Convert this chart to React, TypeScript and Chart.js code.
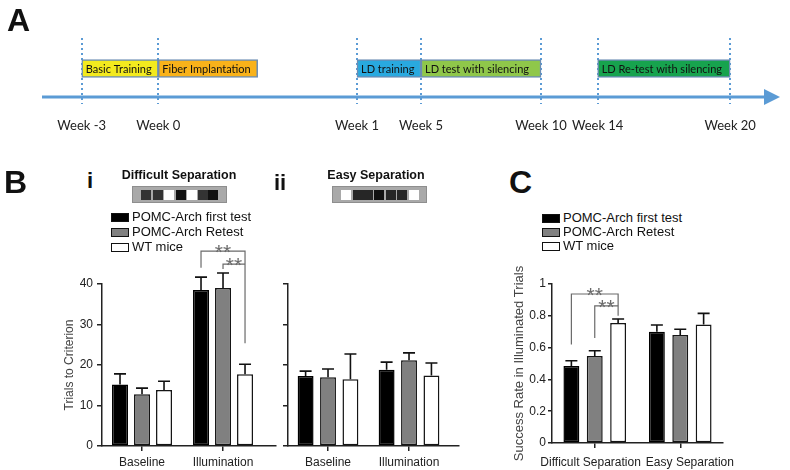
import { useEffect, useRef } from 'react';
import { Chart, registerables } from 'chart.js';

Chart.register(...registerables);

// ---------------- Panel A : timeline ----------------
const weekLabels = ['Week -3', 'Week 0', 'Week 1', 'Week 5', 'Week 10', 'Week 14', 'Week 20'];
// position of each milestone along the drawn timeline (0 = arrow start, 100 = arrow tip)
const weekMarks = [5.4, 15.8, 42.8, 51.5, 67.8, 75.5, 93.5];
const phaseNames = ['Basic Training', 'Fiber Implantation', 'LD training', 'LD test with silencing', 'LD Re-test with silencing'];
const phaseStart = [5.4, 15.8, 42.8, 51.5, 75.5];
const phaseEnd = [15.8, 29.3, 51.5, 67.8, 93.5];
const phaseColors = ['#f3ea1e', '#f9b21a', '#29a9df', '#8fc74a', '#17a34e'];

// ---------------- Panels B and C ----------------
const seriesNames = ['POMC-Arch first test', 'POMC-Arch Retest', 'WT mice'];
const seriesColors = ['#000000', '#808080', '#ffffff'];
const conditions = ['Baseline', 'Illumination'];

const difficultFirst = [15.2, 38.5];
const difficultRetest = [12.8, 39.0];
const difficultWT = [13.8, 17.7];
const difficultFirstErr = [2.6, 3.2];
const difficultRetestErr = [1.5, 3.7];
const difficultWTErr = [2.2, 2.5];

const easyFirst = [17.3, 18.8];
const easyRetest = [17.0, 21.2];
const easyWT = [16.5, 17.4];
const easyFirstErr = [1.2, 1.9];
const easyRetestErr = [2.0, 1.8];
const easyWTErr = [6.2, 3.1];

const trialsTicks = [0, 10, 20, 30, 40];

const separations = ['Difficult Separation', 'Easy Separation'];
const successFirst = [0.484, 0.7];
const successRetest = [0.547, 0.68];
const successWT = [0.755, 0.745];
const successFirstErr = [0.033, 0.042];
const successRetestErr = [0.033, 0.035];
const successWTErr = [0.025, 0.07];
const successTicks = [0, 0.2, 0.4, 0.6, 0.8, 1];

// significance brackets: series indices, group index, levels in data units
const trialsBracketFrom = [0, 1];
const trialsBracketTo = [2, 2];
const trialsBracketGroup = [1, 1];
const trialsBracketTop = [48.1, 44.9];
const trialsBracketFromFoot = [44.0, 43.7];
const trialsBracketToFoot = [25.4, 44.9];
const trialsBracketText = ['**', '**'];

const successBracketFrom = [0, 1];
const successBracketTo = [2, 2];
const successBracketGroup = [0, 0];
const successBracketTop = [0.937, 0.862];
const successBracketFromFoot = [0.62, 0.66];
const successBracketToFoot = [0.8, 0.862];
const successBracketText = ['**', '**'];

// stimulus icons (decorative)
const difficultPattern = ['#333', '#333', '#fff', '#111', '#fff', '#333', '#111'];
const easyPattern = ['#fff', '#262626', '#262626', '#111', '#262626', '#262626', '#fff'];

const FONT = 'Arial, "Liberation Sans", sans-serif';

// ---------------- plugins ----------------
const timelinePlugin = {
  id: 'timeline',
  beforeDatasetsDraw(chart: any) {
    const ctx = chart.ctx;
    const xs = chart.scales.x;
    const area = chart.chartArea;
    ctx.save();
    ctx.strokeStyle = '#5b9bd5';
    ctx.lineWidth = 2;
    ctx.setLineDash([2, 3]);
    weekMarks.forEach((v) => {
      const x = Math.round(xs.getPixelForValue(v));
      ctx.beginPath();
      ctx.moveTo(x, 38);
      ctx.lineTo(x, 104);
      ctx.stroke();
    });
    ctx.setLineDash([]);
    const y = area.bottom;
    ctx.lineWidth = 3;
    ctx.beginPath();
    ctx.moveTo(area.left, y);
    ctx.lineTo(area.right - 12, y);
    ctx.stroke();
    ctx.fillStyle = '#5b9bd5';
    ctx.beginPath();
    ctx.moveTo(area.right + 2, y);
    ctx.lineTo(area.right - 14, y - 8);
    ctx.lineTo(area.right - 14, y + 8);
    ctx.closePath();
    ctx.fill();
    ctx.restore();
  },
  afterDatasetsDraw(chart: any) {
    const ctx = chart.ctx;
    ctx.save();
    ctx.font = '11px Lato, "Open Sans", sans-serif';
    ctx.fillStyle = '#111';
    ctx.textAlign = 'left';
    ctx.textBaseline = 'middle';
    chart.data.datasets.forEach((ds: any, i: number) => {
      const el = chart.getDatasetMeta(i).data[0];
      const left = Math.min(el.x, el.base);
      ctx.fillText(ds.label, left + 4, el.y + 1);
    });
    ctx.restore();
  },
};

const barExtras = {
  id: 'barExtras',
  afterDatasetsDraw(chart: any, _args: any, opts: any) {
    const ctx = chart.ctx;
    const ys = chart.scales.y;
    ctx.save();
    // error bars (upper only)
    chart.data.datasets.forEach((ds: any, di: number) => {
      const meta = chart.getDatasetMeta(di);
      meta.data.forEach((el: any, i: number) => {
        const v = meta.controller.getParsed(i).y;
        const top = ys.getPixelForValue(v + ds.errors[i]);
        ctx.strokeStyle = '#111';
        ctx.lineWidth = 1.6;
        ctx.beginPath();
        ctx.moveTo(el.x, el.y);
        ctx.lineTo(el.x, top);
        ctx.moveTo(el.x - 6, top);
        ctx.lineTo(el.x + 6, top);
        ctx.stroke();
      });
    });
    // significance brackets
    const b = opts && opts.brackets;
    if (b) {
      for (let k = 0; k < b.from.length; k++) {
        const xl = chart.getDatasetMeta(b.from[k]).data[b.group[k]].x;
        const xr = chart.getDatasetMeta(b.to[k]).data[b.group[k]].x;
        const yt = ys.getPixelForValue(b.top[k]);
        ctx.strokeStyle = '#6a6a6a';
        ctx.lineWidth = 1.2;
        ctx.beginPath();
        ctx.moveTo(xl, ys.getPixelForValue(b.fromFoot[k]));
        ctx.lineTo(xl, yt);
        ctx.lineTo(xr, yt);
        ctx.lineTo(xr, ys.getPixelForValue(b.toFoot[k]));
        ctx.stroke();
        ctx.fillStyle = '#6a6a6a';
        ctx.font = '21px ' + FONT;
        ctx.textAlign = 'center';
        ctx.textBaseline = 'alphabetic';
        ctx.fillText(b.text[k], (xl + xr) / 2, yt + 8);
      }
    }
    // x labels pushed apart when they would overlap
    if (opts && opts.spreadLabels) {
      const xs = chart.scales.x;
      const labels: string[] = chart.data.labels;
      ctx.font = '12px ' + FONT;
      ctx.fillStyle = '#222';
      ctx.textAlign = 'center';
      ctx.textBaseline = 'middle';
      const centers = labels.map((_, i) => xs.getPixelForValue(i));
      const widths = labels.map((l) => ctx.measureText(l).width);
      for (let i = 0; i < labels.length - 1; i++) {
        const overlap = centers[i] + widths[i] / 2 + 5 - (centers[i + 1] - widths[i + 1] / 2);
        if (overlap > 0) {
          centers[i] -= overlap * 0.3;
          centers[i + 1] += overlap * 0.7;
        }
      }
      labels.forEach((l, i) => ctx.fillText(l, centers[i], xs.top + 20));
    }
    ctx.restore();
  },
};

// ---------------- chart builders ----------------
function makeTimeline(canvas: HTMLCanvasElement) {
  return new Chart(canvas, {
    type: 'bar',
    data: {
      labels: ['phase'],
      datasets: phaseNames.map((name, i) => ({
        label: name,
        data: [[phaseStart[i], phaseEnd[i]]],
        backgroundColor: phaseColors[i],
        borderColor: '#6b8db3',
        borderWidth: 1.5,
        borderSkipped: false,
        barThickness: 18,
        grouped: false,
      })),
    } as any,
    options: {
      indexAxis: 'y',
      responsive: false,
      animation: false,
      layout: { padding: { left: 42, right: 12, top: 40, bottom: 0 } },
      plugins: { legend: { display: false }, tooltip: { enabled: false } },
      scales: {
        x: {
          type: 'linear',
          min: 0,
          max: 100,
          grid: { display: false, drawTicks: false },
          border: { display: false },
          afterBuildTicks: (s: any) => {
            s.ticks = weekMarks.map((v) => ({ value: v }));
          },
          afterFit: (s: any) => {
            s.height = 53;
            s.paddingLeft = 0;
            s.paddingRight = 0;
          },
          ticks: {
            autoSkip: false,
            maxRotation: 0,
            minRotation: 0,
            padding: 21,
            color: '#222',
            font: { family: 'Lato, "Open Sans", sans-serif', size: 13 },
            callback: (_v: any, i: number) => weekLabels[i],
          },
        },
        y: { display: false },
      },
    } as any,
    plugins: [timelinePlugin],
  });
}

type BarSpec = {
  categories: string[];
  values: number[][];
  errors: number[][];
  linearX?: [number, number];
  categoryPct: number;
  barPct: number;
  yTicks: number[];
  showYLabels: boolean;
  yTitle?: string;
  yTitleSize?: number;
  yTitleOffset?: number;
  pad: { left: number; right: number; top: number; bottom: number };
  yWidth: number;
  xHeight: number;
  tickLen: number;
  tickPad: number;
  spreadLabels?: boolean;
  brackets?: any;
};

function makeBars(canvas: HTMLCanvasElement, s: BarSpec) {
  const linear = !!s.linearX;
  const xScale: any = linear
    ? {
        type: 'linear',
        min: s.linearX![0],
        max: s.linearX![1],
        offset: false,
        afterBuildTicks: (sc: any) => {
          sc.ticks = s.categories.map((_, i) => ({ value: i }));
        },
      }
    : { type: 'category', offset: true };
  Object.assign(xScale, {
    grid: { display: true, drawOnChartArea: false, drawTicks: true, tickLength: 5, color: '#222', lineWidth: 1.5, offset: false },
    border: { display: true, color: '#222', width: 1.5 },
    afterFit: (sc: any) => {
      sc.height = s.xHeight;
      sc.paddingLeft = 0;
      sc.paddingRight = 0;
    },
    ticks: {
      display: !s.spreadLabels,
      autoSkip: false,
      maxRotation: 0,
      minRotation: 0,
      padding: 4,
      color: '#222',
      font: { family: FONT, size: 12 },
      callback: (_v: any, i: number) => s.categories[i],
    },
  });
  return new Chart(canvas, {
    type: 'bar',
    data: {
      labels: s.categories,
      datasets: s.values.map((vals, si) => ({
        label: seriesNames[si],
        data: linear ? vals.map((v, i) => ({ x: i, y: v })) : vals,
        errors: s.errors[si],
        backgroundColor: seriesColors[si],
        borderColor: si === 0 ? '#000' : '#151515',
        borderWidth: 1.5,
        borderSkipped: false,
        categoryPercentage: s.categoryPct,
        barPercentage: s.barPct,
      })),
    } as any,
    options: {
      responsive: false,
      animation: false,
      layout: { padding: s.pad },
      plugins: {
        legend: { display: false },
        tooltip: { enabled: false },
        barExtras: { brackets: s.brackets, spreadLabels: s.spreadLabels },
      },
      scales: {
        x: xScale,
        y: {
          type: 'linear',
          min: s.yTicks[0],
          max: s.yTicks[s.yTicks.length - 1],
          afterBuildTicks: (sc: any) => {
            sc.ticks = s.yTicks.map((v) => ({ value: v }));
          },
          afterFit: (sc: any) => {
            sc.width = s.yWidth;
            sc.paddingTop = 0;
            sc.paddingBottom = 0;
          },
          grid: { display: true, drawOnChartArea: false, drawTicks: true, tickLength: s.tickLen, color: '#222', lineWidth: 1.5 },
          border: { display: true, color: '#222', width: 1.5 },
          ticks: {
            display: s.showYLabels,
            padding: s.tickPad,
            color: '#222',
            font: { family: FONT, size: 12 },
            callback: (v: any) => String(v),
          },
          title: s.yTitle
            ? {
                display: true,
                text: s.yTitle,
                color: '#444',
                font: { family: FONT, size: s.yTitleSize || 12 },
                padding: { top: s.yTitleOffset, bottom: 0 },
              }
            : { display: false },
        },
      },
    } as any,
    plugins: [barExtras],
  });
}

// ---------------- page pieces ----------------
function Legend({ left, textLeft, rows }: { left: number; textLeft: number; rows: number[] }) {
  return (
    <>
      {seriesNames.map((n, i) => (
        <div key={n} style={{ position: 'absolute', left, top: rows[i] - 8, height: 16, width: 200 }}>
          <div
            style={{
              position: 'absolute',
              left: 0,
              top: 3.5,
              width: 18,
              height: 9,
              boxSizing: 'border-box',
              border: '1.5px solid #111',
              background: seriesColors[i],
            }}
          />
          <div style={{ position: 'absolute', left: textLeft - left, top: 0, fontSize: 13, lineHeight: '16px', color: '#111', whiteSpace: 'nowrap' }}>
            {n}
          </div>
        </div>
      ))}
    </>
  );
}

function Pattern({ left, top, colors, offsets }: { left: number; top: number; colors: string[]; offsets: number[] }) {
  return (
    <div
      style={{
        position: 'absolute',
        left,
        top,
        width: 95,
        height: 17,
        boxSizing: 'border-box',
        background: '#a9a9a9',
        border: '1px solid #8e8e8e',
      }}
    >
      {colors.map((c, i) => (
        <div key={i} style={{ position: 'absolute', left: offsets[i] - 1, top: 3, width: 10, height: 10, background: c }} />
      ))}
    </div>
  );
}

function Txt({ x, y, size, bold, children, center }: any) {
  return (
    <div
      style={{
        position: 'absolute',
        left: center ? x - 150 : x,
        width: center ? 300 : undefined,
        textAlign: center ? 'center' : 'left',
        top: y - size * 0.6,
        fontSize: size,
        lineHeight: size * 1.2 + 'px',
        fontWeight: bold ? 'bold' : 'normal',
        color: '#111',
        whiteSpace: 'nowrap',
      }}
    >
      {children}
    </div>
  );
}

export default function App() {
  const refA = useRef<HTMLCanvasElement>(null);
  const refBi = useRef<HTMLCanvasElement>(null);
  const refBii = useRef<HTMLCanvasElement>(null);
  const refC = useRef<HTMLCanvasElement>(null);

  useEffect(() => {
    const charts = [
      makeTimeline(refA.current!),
      makeBars(refBi.current!, {
        categories: conditions,
        values: [difficultFirst, difficultRetest, difficultWT],
        errors: [difficultFirstErr, difficultRetestErr, difficultWTErr],
        linearX: [-0.494, 1.654],
        categoryPct: 0.815,
        barPct: 0.727,
        yTicks: trialsTicks,
        showYLabels: true,
        yTitle: 'Trials to Criterion',
        yTitleOffset: 42.8,
        pad: { left: 0, right: 6, top: 44, bottom: 0 },
        yWidth: 82,
        xHeight: 24,
        tickLen: 5,
        tickPad: 4,
        brackets: {
          from: trialsBracketFrom,
          to: trialsBracketTo,
          group: trialsBracketGroup,
          top: trialsBracketTop,
          fromFoot: trialsBracketFromFoot,
          toFoot: trialsBracketToFoot,
          text: trialsBracketText,
        },
      }),
      makeBars(refBii.current!, {
        categories: conditions,
        values: [easyFirst, easyRetest, easyWT],
        errors: [easyFirstErr, easyRetestErr, easyWTErr],
        linearX: [-0.494, 1.617],
        categoryPct: 0.83,
        barPct: 0.71,
        yTicks: trialsTicks,
        showYLabels: false,
        pad: { left: 0, right: 6, top: 44, bottom: 0 },
        yWidth: 18,
        xHeight: 24,
        tickLen: 5,
        tickPad: 4,
      }),
      makeBars(refC.current!, {
        categories: separations,
        values: [successFirst, successRetest, successWT],
        errors: [successFirstErr, successRetestErr, successWTErr],
        categoryPct: 0.82,
        barPct: 0.68,
        yTicks: successTicks,
        showYLabels: true,
        yTitle: 'Success Rate in Illuminated Trials',
        yTitleSize: 13,
        yTitleOffset: 11.2,
        pad: { left: 0, right: 62, top: 44, bottom: 0 },
        yWidth: 52,
        xHeight: 27,
        tickLen: 4,
        tickPad: 2,
        spreadLabels: true,
        brackets: {
          from: successBracketFrom,
          to: successBracketTo,
          group: successBracketGroup,
          top: successBracketTop,
          fromFoot: successBracketFromFoot,
          toFoot: successBracketToFoot,
          text: successBracketText,
        },
      }),
    ];
    return () => charts.forEach((c) => c.destroy());
  }, []);

  return (
    <div
      style={{
        position: 'absolute',
        left: 0,
        top: 0,
        width: 790,
        height: 470,
        background: '#fff',
        overflow: 'hidden',
        fontFamily: FONT,
      }}
    >
      <canvas ref={refA} width={790} height={150} style={{ position: 'absolute', left: 0, top: 0 }} />
      <canvas ref={refBi} width={262} height={230} style={{ position: 'absolute', left: 20, top: 240 }} />
      <canvas ref={refBii} width={195} height={230} style={{ position: 'absolute', left: 270, top: 240 }} />
      <canvas ref={refC} width={285} height={230} style={{ position: 'absolute', left: 500, top: 240 }} />

      <Txt x={7} y={20} size={32} bold>A</Txt>
      <Txt x={4} y={182} size={32} bold>B</Txt>
      <Txt x={509} y={182} size={32} bold>C</Txt>
      <Txt x={87} y={181} size={22} bold>i</Txt>
      <Txt x={274} y={183} size={22} bold>ii</Txt>

      <Txt x={179} y={175} size={12.5} bold center>Difficult Separation</Txt>
      <Txt x={376} y={175} size={12.5} bold center>Easy Separation</Txt>
      <Pattern left={132} top={186} colors={difficultPattern} offsets={[9, 21, 32, 44, 55, 66, 76]} />
      <Pattern left={332} top={186} colors={easyPattern} offsets={[9, 21, 31, 42, 54, 65, 77]} />

      <Legend left={111} textLeft={132} rows={[217, 232, 247]} />
      <Legend left={542} textLeft={563} rows={[218, 232, 246]} />
    </div>
  );
}
